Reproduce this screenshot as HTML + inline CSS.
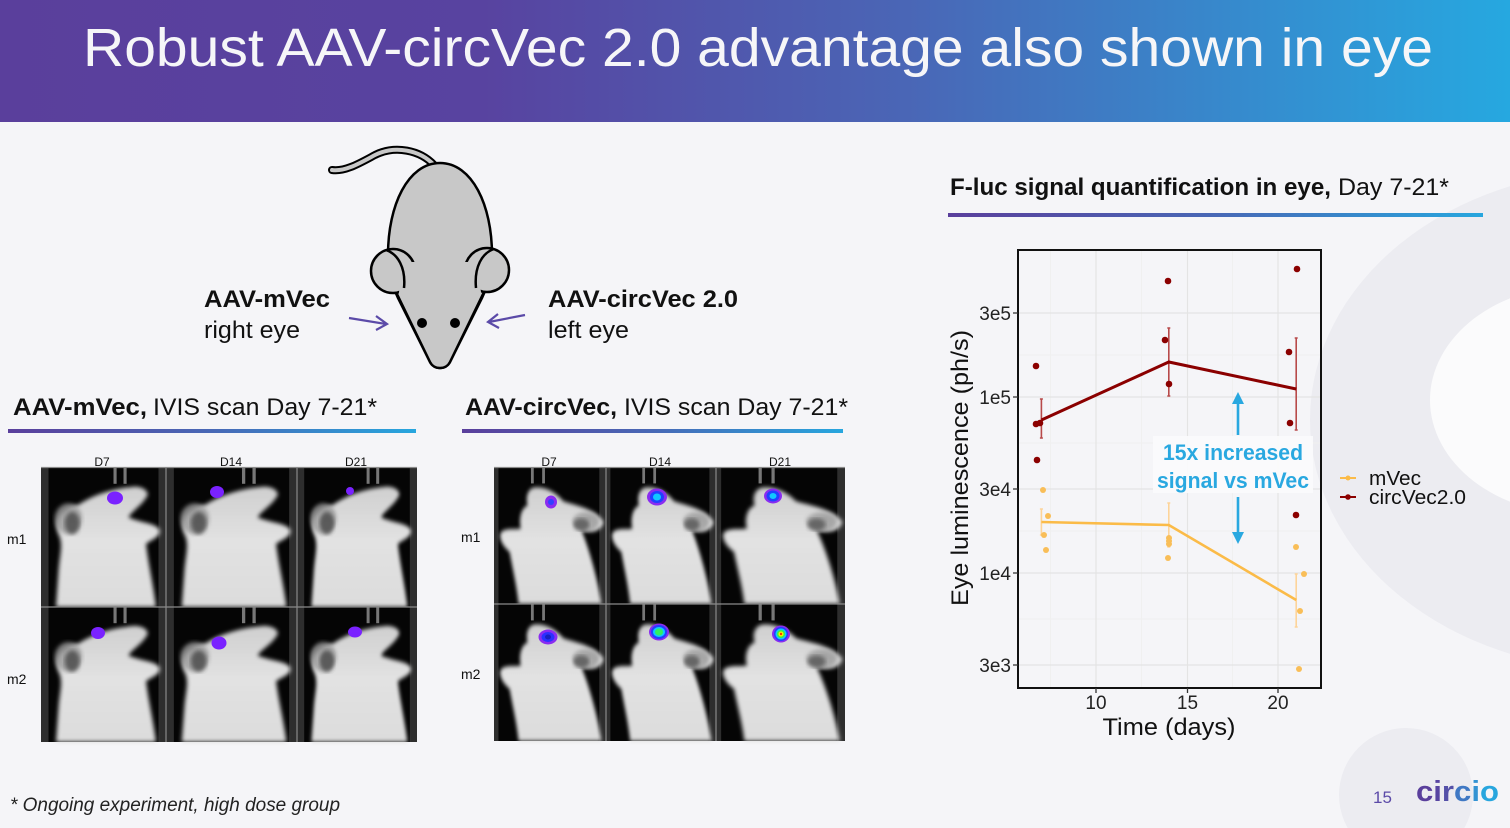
<!DOCTYPE html>
<html><head><meta charset="utf-8"><style>
html,body{margin:0;padding:0;background:#f5f5f8;}
svg{display:block;}
text{font-family:"Liberation Sans",Arial,sans-serif;}
</style></head><body>
<svg width="1510" height="828" viewBox="0 0 1510 828" xmlns="http://www.w3.org/2000/svg">
<defs>
<linearGradient id="hdr" x1="0" y1="0" x2="1510" y2="0" gradientUnits="userSpaceOnUse">
<stop offset="0" stop-color="#5a3f9c"/><stop offset="0.32" stop-color="#5843a0"/><stop offset="0.6" stop-color="#4a66b6"/><stop offset="1" stop-color="#26a8e0"/></linearGradient>
<linearGradient id="bar" x1="0" y1="0" x2="1" y2="0"><stop offset="0" stop-color="#5a3f9c"/><stop offset="0.5" stop-color="#4868b6"/><stop offset="1" stop-color="#27a6de"/></linearGradient>
<linearGradient id="fur" x1="0" y1="0" x2="0" y2="1"><stop offset="0" stop-color="#cfcfcf"/><stop offset="0.45" stop-color="#e2e2e2"/><stop offset="1" stop-color="#dcdcdc"/></linearGradient>
<filter id="bl" x="-10%" y="-10%" width="120%" height="120%"><feGaussianBlur stdDeviation="1.6"/></filter>
<path id="mL" d="M12 100 L14 75 C15 62 18 55 14 48 C10 40 14 30 30 27 C45 18 62 15 75 14 C82 14 88 18 84 22 C80 28 72 32 70 36 C80 40 92 40 95 45 C96 50 88 52 84 55 C86 70 90 85 92 100 Z"/>
<path id="mR" d="M22 100 C20 85 16 72 14 62 C8 58 4 52 6 48 C10 44 18 46 24 45 C22 38 24 30 30 28 C28 22 30 16 36 15 C45 14 55 18 62 25 C72 28 90 30 98 40 C96 48 85 48 78 46 C85 60 92 80 96 100 Z"/>
<g id="cellL"><rect width="100" height="100" fill="#2e2e2e"/><rect x="6" width="88" height="100" fill="#050505"/><rect x="58" y="0" width="2.5" height="12" fill="#777"/><rect x="66" y="0" width="2.5" height="12" fill="#777"/><use href="#mL" fill="url(#fur)" filter="url(#bl)"/><ellipse cx="22" cy="37" rx="11" ry="11" fill="#9a9a9a" opacity="0.8" filter="url(#bl)"/><ellipse cx="25" cy="40" rx="6" ry="8" fill="#3a3a3a" opacity="0.7" filter="url(#bl)"/></g>
<g id="cellR"><rect width="100" height="100" fill="#2e2e2e"/><rect x="4" width="90" height="100" fill="#050505"/><rect x="33" y="0" width="2.5" height="12" fill="#777"/><rect x="43" y="0" width="2.5" height="12" fill="#777"/><use href="#mR" fill="url(#fur)" filter="url(#bl)"/><ellipse cx="82" cy="40" rx="12" ry="7" fill="#9a9a9a" opacity="0.8" filter="url(#bl)"/><ellipse cx="78" cy="42" rx="7" ry="4.5" fill="#3a3a3a" opacity="0.6" filter="url(#bl)"/></g>
</defs>

<!-- background -->
<rect width="1510" height="828" fill="#f5f5f8"/>
<ellipse cx="1620" cy="420" rx="310" ry="250" fill="#ececf1"/>
<ellipse cx="1580" cy="400" rx="150" ry="115" fill="#fbfbfc"/>
<circle cx="1406" cy="795" r="67" fill="#ececf1"/>

<!-- header -->
<rect width="1510" height="122" fill="url(#hdr)"/>
<text x="83" y="66" font-size="54" fill="#f6f6f8" textLength="1350" lengthAdjust="spacingAndGlyphs">Robust AAV-circVec 2.0 advantage also shown in eye</text>

<!-- mouse cartoon -->
<path d="M434 165 C420 150 395 145 375 155 C360 163 345 172 332 170" fill="none" stroke="#000" stroke-width="8" stroke-linecap="round"/>
<path d="M434 165 C420 150 395 145 375 155 C360 163 345 172 332 170" fill="none" stroke="#c8c8c8" stroke-width="4" stroke-linecap="round"/>
<path d="M440 163 C472 163 492 205 492 255 C492 272 488 285 482 298 L450 362 C446 370 434 370 430 362 L398 298 C392 285 388 272 388 255 C388 205 408 163 440 163 Z" fill="#c8c8c8" stroke="#000" stroke-width="2.5"/>
<circle cx="393" cy="271" r="22" fill="#c8c8c8" stroke="#000" stroke-width="2.5"/>
<circle cx="487" cy="270" r="22" fill="#c8c8c8" stroke="#000" stroke-width="2.5"/>
<path d="M404 262 L476 262 L482 298 L450 362 C446 370 434 370 430 362 L398 298 Z" fill="#c8c8c8"/>
<path d="M396 292 L430 362 C434 370 446 370 450 362 L484 292" fill="none" stroke="#000" stroke-width="2.5"/>
<path d="M386 250 C398 254 406 268 404 288" fill="none" stroke="#000" stroke-width="2.5"/>
<path d="M494 249 C482 253 474 267 476 288" fill="none" stroke="#000" stroke-width="2.5"/>
<circle cx="422" cy="323" r="5" fill="#000"/>
<circle cx="455" cy="323" r="5" fill="#000"/>
<path d="M349 318 L386 324 M376 316 L387 324 L376 330" fill="none" stroke="#5b4aa8" stroke-width="2.2"/>
<path d="M525 315 L489 322 M498 314 L488 322 L499 328" fill="none" stroke="#5b4aa8" stroke-width="2.2"/>
<text x="204" y="307" font-size="24" font-weight="bold" fill="#111" textLength="126" lengthAdjust="spacingAndGlyphs">AAV-mVec</text>
<text x="204" y="338" font-size="24" fill="#111" textLength="96" lengthAdjust="spacingAndGlyphs">right eye</text>
<text x="548" y="307" font-size="24" font-weight="bold" fill="#111" textLength="190" lengthAdjust="spacingAndGlyphs">AAV-circVec 2.0</text>
<text x="548" y="338" font-size="24" fill="#111" textLength="81" lengthAdjust="spacingAndGlyphs">left eye</text>

<!-- section headings -->
<text x="13" y="415" font-size="24" font-weight="bold" fill="#111" textLength="134" lengthAdjust="spacingAndGlyphs">AAV-mVec,</text>
<text x="153" y="415" font-size="24" fill="#111" textLength="224" lengthAdjust="spacingAndGlyphs">IVIS scan Day 7-21*</text>
<rect x="8" y="429" width="408" height="4" fill="url(#bar)"/>
<text x="465" y="415" font-size="24" font-weight="bold" fill="#111" textLength="152" lengthAdjust="spacingAndGlyphs">AAV-circVec,</text>
<text x="624" y="415" font-size="24" fill="#111" textLength="224" lengthAdjust="spacingAndGlyphs">IVIS scan Day 7-21*</text>
<rect x="462" y="429" width="381" height="4" fill="url(#bar)"/>
<text x="950" y="195" font-size="24" font-weight="bold" fill="#111" textLength="381" lengthAdjust="spacingAndGlyphs">F-luc signal quantification in eye,</text>
<text x="1338" y="195" font-size="24" fill="#111" textLength="111" lengthAdjust="spacingAndGlyphs">Day 7-21*</text>
<rect x="948" y="213" width="535" height="4" fill="url(#bar)"/>

<!-- left grid -->
<text x="102" y="466" font-size="12" fill="#111" text-anchor="middle">D7</text>
<text x="231" y="466" font-size="12" fill="#111" text-anchor="middle">D14</text>
<text x="356" y="466" font-size="12" fill="#111" text-anchor="middle">D21</text>
<text x="7" y="544" font-size="14" fill="#111">m1</text>
<text x="7" y="684" font-size="14" fill="#111">m2</text>
<use href="#cellL" transform="translate(41,467) scale(1.25,1.40)"/>
<use href="#cellL" transform="translate(166,467) scale(1.31,1.40)"/>
<use href="#cellL" transform="translate(297,467) scale(1.20,1.40)"/>
<use href="#cellL" transform="translate(41,607) scale(1.25,1.35)"/>
<use href="#cellL" transform="translate(166,607) scale(1.31,1.35)"/>
<use href="#cellL" transform="translate(297,607) scale(1.20,1.35)"/>
<path d="M41 467.5 H417 M41 607 H417 M166 467 V742 M297 467 V742" stroke="#8a8a8a" stroke-width="1.2" fill="none"/>
<g fill="#7a22ff">
<ellipse cx="115" cy="498" rx="8" ry="6.5"/><ellipse cx="217" cy="492" rx="7" ry="6"/><ellipse cx="350" cy="491" rx="4" ry="4"/>
<ellipse cx="98" cy="633" rx="7" ry="6"/><ellipse cx="219" cy="643" rx="7.5" ry="6.5"/><ellipse cx="355" cy="632" rx="7" ry="5.5"/>
</g>

<!-- right grid -->
<text x="549" y="466" font-size="12" fill="#111" text-anchor="middle">D7</text>
<text x="660" y="466" font-size="12" fill="#111" text-anchor="middle">D14</text>
<text x="780" y="466" font-size="12" fill="#111" text-anchor="middle">D21</text>
<text x="461" y="542" font-size="14" fill="#111">m1</text>
<text x="461" y="679" font-size="14" fill="#111">m2</text>
<use href="#cellR" transform="translate(494,467) scale(1.12,1.37)"/>
<use href="#cellR" transform="translate(606,467) scale(1.10,1.37)"/>
<use href="#cellR" transform="translate(716,467) scale(1.29,1.37)"/>
<use href="#cellR" transform="translate(494,604) scale(1.12,1.37)"/>
<use href="#cellR" transform="translate(606,604) scale(1.10,1.37)"/>
<use href="#cellR" transform="translate(716,604) scale(1.29,1.37)"/>
<path d="M494 467.5 H845 M494 604 H845 M606 467 V741 M716 467 V741" stroke="#8a8a8a" stroke-width="1.2" fill="none"/>
<ellipse cx="551" cy="502" rx="6" ry="6.5" fill="#8a2cf0"/><ellipse cx="551" cy="502" rx="3" ry="3" fill="#3040ff"/>
<ellipse cx="657" cy="497" rx="10" ry="8.5" fill="#8a2cf0"/><ellipse cx="657" cy="497" rx="7" ry="6" fill="#2040ff"/><ellipse cx="657" cy="497" rx="4" ry="3.5" fill="#10c8ff"/>
<ellipse cx="773" cy="496" rx="9" ry="7.5" fill="#8a2cf0"/><ellipse cx="773" cy="496" rx="6.5" ry="5.5" fill="#2040ff"/><ellipse cx="773" cy="496" rx="3.5" ry="3" fill="#10c8ff"/>
<ellipse cx="548" cy="637" rx="9.5" ry="7.5" fill="#8a2cf0"/><ellipse cx="548" cy="637" rx="6.5" ry="5" fill="#2a30ff"/><ellipse cx="548" cy="637" rx="3" ry="2.5" fill="#1820c0"/>
<ellipse cx="659" cy="632" rx="10" ry="8.5" fill="#8a2cf0"/><ellipse cx="659" cy="632" rx="8" ry="7" fill="#2040ff"/><ellipse cx="659" cy="632" rx="6" ry="5" fill="#10c8ff"/><ellipse cx="659" cy="632" rx="4" ry="3.5" fill="#30f060"/>
<ellipse cx="781" cy="634" rx="9" ry="8.5" fill="#8a2cf0"/><ellipse cx="781" cy="634" rx="7" ry="7" fill="#2040ff"/><ellipse cx="781" cy="634" rx="5.5" ry="5.5" fill="#10c8ff"/><ellipse cx="781" cy="634" rx="4" ry="4" fill="#40f040"/><ellipse cx="781" cy="634" rx="2.5" ry="2.5" fill="#ffee00"/><circle cx="781" cy="634" r="1.2" fill="#ff3000"/>

<!-- chart -->
<g stroke="#f0f0f0" stroke-width="1">
<path d="M1018 355 H1321 M1018 443 H1321 M1018 531 H1321 M1018 619 H1321 M1050.5 250 V688 M1141.5 250 V688 M1232.5 250 V688"/>
</g>
<g stroke="#e4e4e4" stroke-width="1.2">
<path d="M1018 313 H1321 M1018 397 H1321 M1018 489 H1321 M1018 573 H1321 M1018 665 H1321 M1096 250 V688 M1187.5 250 V688 M1278 250 V688"/>
</g>
<rect x="1153" y="436" width="160" height="57" fill="#fbfbfc" opacity="0.9"/>
<!-- mVec -->
<g stroke="#fdd49a" stroke-width="1.6"><path d="M1041.4 509 V535 M1039.9 509 H1042.9 M1039.9 535 H1042.9 M1168.8 503 V547 M1167.3 503 H1170.3 M1167.3 547 H1170.3 M1296.2 574 V627 M1294.7 574 H1297.7 M1294.7 627 H1297.7"/></g>
<polyline points="1041.4,522 1168.8,525 1296.2,600" fill="none" stroke="#fbbb48" stroke-width="2.6"/>
<g fill="#f9be58">
<circle cx="1043" cy="490" r="3"/><circle cx="1048" cy="516" r="3"/><circle cx="1044" cy="535" r="3"/><circle cx="1046" cy="550" r="3"/>
<circle cx="1169" cy="538" r="3"/><circle cx="1169" cy="541" r="3"/><circle cx="1169" cy="544" r="3"/><circle cx="1168" cy="558" r="3"/>
<circle cx="1296" cy="547" r="3"/><circle cx="1304" cy="574" r="3"/><circle cx="1300" cy="611" r="3"/><circle cx="1299" cy="669" r="3"/>
</g>
<!-- circVec -->
<g stroke="#b84a4a" stroke-width="1.6"><path d="M1041.4 399 V438 M1039.9 399 H1042.9 M1039.9 438 H1042.9 M1168.8 328 V396 M1167.3 328 H1170.3 M1167.3 396 H1170.3 M1296.2 338 V430 M1294.7 338 H1297.7 M1294.7 430 H1297.7"/></g>
<polyline points="1041.4,420 1168.8,362 1296.2,389" fill="none" stroke="#8b0000" stroke-width="3"/>
<g fill="#8b0000">
<circle cx="1036" cy="366" r="3.3"/><circle cx="1036" cy="424" r="3.3"/><circle cx="1040" cy="423" r="3.3"/><circle cx="1037" cy="460" r="3.3"/>
<circle cx="1168" cy="281" r="3.3"/><circle cx="1165" cy="340" r="3.3"/><circle cx="1169" cy="384" r="3.3"/>
<circle cx="1297" cy="269" r="3.3"/><circle cx="1289" cy="352" r="3.3"/><circle cx="1290" cy="423" r="3.3"/><circle cx="1296" cy="515" r="3.3"/>
</g>
<!-- annotation -->
<path d="M1238 435 V403" stroke="#29a8e0" stroke-width="2.6"/><path d="M1232 404 L1238 392 L1244 404 Z" fill="#29a8e0"/>
<path d="M1238 497 V533" stroke="#29a8e0" stroke-width="2.6"/><path d="M1232 532 L1238 544 L1244 532 Z" fill="#29a8e0"/>
<text x="1233" y="460" font-size="22" font-weight="bold" fill="#29a8e0" text-anchor="middle" textLength="140" lengthAdjust="spacingAndGlyphs">15x increased</text>
<text x="1233" y="488" font-size="22" font-weight="bold" fill="#29a8e0" text-anchor="middle" textLength="152" lengthAdjust="spacingAndGlyphs">signal vs mVec</text>
<!-- frame & axes -->
<rect x="1018" y="250" width="303" height="438" fill="none" stroke="#111" stroke-width="2"/>
<g stroke="#333" stroke-width="1.3"><path d="M1013 313 H1018 M1013 397 H1018 M1013 489 H1018 M1013 573 H1018 M1013 665 H1018 M1096 688 V693 M1187.5 688 V693 M1278 688 V693"/></g>
<g font-size="19" fill="#222" text-anchor="end">
<text x="1011" y="320">3e5</text><text x="1011" y="404">1e5</text><text x="1011" y="496">3e4</text><text x="1011" y="580">1e4</text><text x="1011" y="672">3e3</text>
</g>
<g font-size="19" fill="#222" text-anchor="middle">
<text x="1096" y="709">10</text><text x="1187.5" y="709">15</text><text x="1278" y="709">20</text>
</g>
<text x="1169" y="735" font-size="24" fill="#111" text-anchor="middle" textLength="133" lengthAdjust="spacingAndGlyphs">Time (days)</text>
<text transform="translate(968,468) rotate(-90)" font-size="24" fill="#111" text-anchor="middle" textLength="276" lengthAdjust="spacingAndGlyphs">Eye luminescence (ph/s)</text>
<!-- legend -->
<path d="M1340 478 H1356" stroke="#fbbb48" stroke-width="2"/><circle cx="1348" cy="478" r="2.5" fill="#fbbb48"/>
<path d="M1340 497 H1356" stroke="#8b0000" stroke-width="2"/><circle cx="1348" cy="497" r="2.8" fill="#8b0000"/>
<text x="1369" y="485" font-size="20" fill="#111" textLength="52" lengthAdjust="spacingAndGlyphs">mVec</text>
<text x="1369" y="504" font-size="20" fill="#111" textLength="97" lengthAdjust="spacingAndGlyphs">circVec2.0</text>

<!-- footer -->
<text x="10" y="811" font-size="19" font-style="italic" fill="#222" textLength="330" lengthAdjust="spacingAndGlyphs">* Ongoing experiment, high dose group</text>
<text x="1373" y="803" font-size="17" fill="#5b4aa8">15</text>
<text x="1416" y="801" font-size="29" font-weight="bold" textLength="83" lengthAdjust="spacingAndGlyphs"><tspan fill="#5a3f9c">c</tspan><tspan fill="#5845a2">i</tspan><tspan fill="#5450a8">r</tspan><tspan fill="#3f78c4">c</tspan><tspan fill="#3393d3">i</tspan><tspan fill="#28a6de">o</tspan></text>
</svg>
</body></html>
